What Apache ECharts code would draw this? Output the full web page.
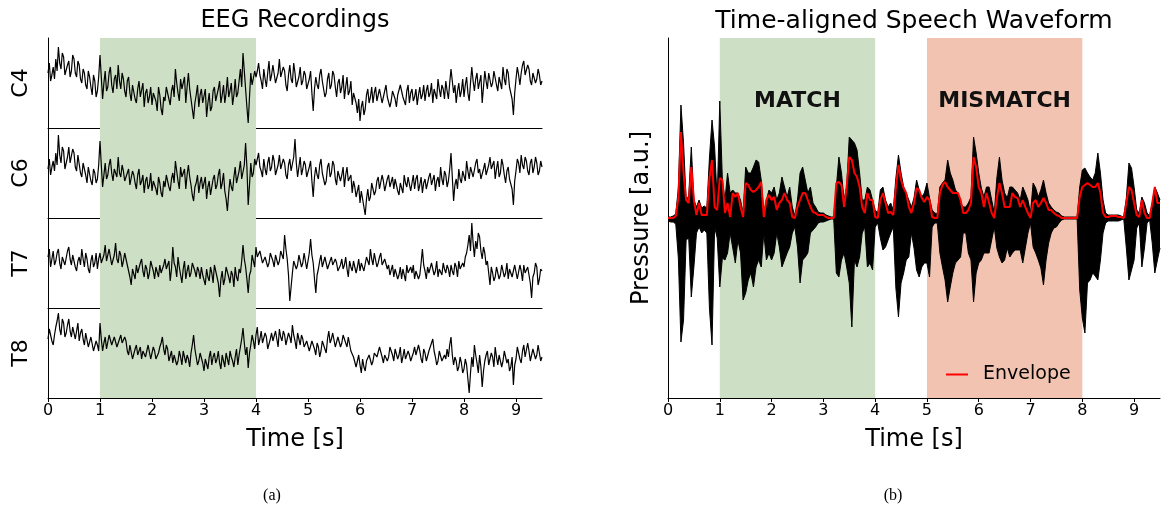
<!DOCTYPE html>
<html>
<head>
<meta charset="utf-8">
<script src="https://cdn.jsdelivr.net/npm/echarts@6/dist/echarts.min.js"></script>
<style>
  html, body { margin: 0; padding: 0; background: #fff; }
  #chart { width: 1164px; height: 510px; }
</style>
</head>
<body>
<div id="chart"></div>
<script>
// Sampling steps, in seconds
const eegStep = 0.025;
const speechStep = 0.05;
const timeTicks = [0, 1, 2, 3, 4, 5, 6, 7, 8, 9];
const channels = ['C4', 'C6', 'T7', 'T8'];

// EEG traces (arbitrary units, one value every 25 ms from 0 to 9.5 s)
const eegC4 = [
  10, 20, 2, 8, 16, 4, 24, 12, 36, 20, 14, 30, 26, 8, 10, 18, 22, 6, 12, 28, 24, 10, 6, 22, 18, 4, 0, 14, 10, -2, -6, 12, 6, -4, -12, 8, 2, -14, -8, 6,
  28, 6, -16, 0, 12, -8, -4, 10, 16, -2, -10, 4, 8, -6, 18, 2, -6, 10, 4, -8, -14, 2, 6, -10, -18, -2, -4, -16, -20, -6, 2, -14, -12, 0, -24, -10, -6, -20, -14, -4,
  -22, -10, -8, -18, -28, -4, -12, -26, -32, -14, -18, -4, -6, -16, -22, -8, -2, -14, 14, 0, -10, -18, 4, -6, -8, 6, -20, -4, 10, -6, -16, -26, -36, -20, -12, -2, -24, -12, -6, -20,
  -18, -6, -34, -20, -10, -28, -24, -8, -4, -18, -16, -6, 2, -20, -12, -2, -20, -10, 6, -14, -8, 0, -22, -12, 4, -14, -10, 2, 14, -4, 30, 12, -6, -24, -40, -14, 10, -2, -4, 12,
  6, 12, 20, 8, 2, -6, 14, 4, -4, 10, 22, 2, 8, 18, 16, 0, -2, 10, 24, 6, 4, 16, 12, -2, -8, 8, 18, 4, 0, 20, 10, -4, -6, 6, 16, -2, 2, 12, 8, -6,
  -4, 4, 12, -10, -28, -6, 6, -2, -6, 8, 14, 2, 0, -14, -10, 4, 10, -6, -2, 12, 8, -4, -14, 0, 4, -10, -4, 8, -16, -4, 6, -12, -8, 2, -22, -10, -12, -20, -30, -16,
  -38, -24, -18, -32, -26, -12, -6, -20, -14, -4, -20, -10, -4, -18, -16, -6, -8, -20, -22, -8, -2, -14, -12, -24, -18, -8, -6, -16, -24, -12, -10, -2, -4, -14, -16, -22, -8, -2, -20, -10,
  -6, -18, -14, -6, -22, -12, -4, -16, -12, -2, -18, -8, -2, -14, -10, 0, -20, -6, -8, -16, 4, -6, -14, -2, -6, -16, 2, -8, -16, 0, 14, 2, -10, -2, -20, -8, 0, -14, -8, 4,
  -14, -2, 6, -10, -18, 0, 16, 2, -8, 4, 10, -6, -4, 8, -20, -4, 12, 2, -6, 10, 8, -4, 0, 12, 14, -2, -8, 6, 6, -6, 16, 4, -2, 14, 10, -4, -6, -16, -32, -10,
  4, 16, 8, -2, 10, 18, 22, 8, 6, 18, 14, 2, -2, 10, 12, 0, 4, 14, 8, -2, 2
];
const eegC6 = [
  4, 14, -2, 6, 12, 2, 20, 8, 38, 18, 10, 26, 22, 4, 6, 16, 26, 10, 12, 24, 20, 6, 2, 18, 16, 0, -4, 10, 8, -2, -10, 6, 4, -8, -12, 4, 0, -10, -6, 8,
  32, 8, -14, -2, 10, -6, -2, 8, 14, 0, -8, 4, 6, -4, 16, 0, -4, 8, 2, -8, -10, 0, 4, -12, -14, 2, -2, -10, -16, -2, 4, -12, -8, -2, -20, -8, -4, -16, -12, 0,
  -18, -8, -6, -16, -22, -4, -10, -20, -24, -8, -14, -2, -4, -14, -18, -6, 0, -10, 12, 2, -8, -16, 6, -4, -6, 4, -16, -2, 8, -4, -12, -22, -28, -14, -10, -2, -20, -10, -4, -16,
  -14, -4, -26, -14, -8, -22, -20, -6, -2, -16, -12, -2, 4, -16, -10, 0, -18, -26, -38, -20, -6, -14, -18, -4, 6, -10, -8, 2, 12, -6, -4, 8, 30, 6, -32, -12, 10, -4, 0, 14,
  8, 14, 20, 6, 2, -4, 14, 4, -2, 10, 16, 2, 6, 18, 12, -2, -4, 8, 18, 4, 4, 14, 10, -2, -6, 8, 14, 2, 2, 16, 34, 10, -4, 6, 16, -2, 4, 12, 8, -4,
  -2, 6, 12, -8, -24, -4, 6, -2, -6, 8, 14, 0, 2, -12, -8, 6, 10, -4, 0, 12, 8, -6, -12, 2, 4, -8, -2, 6, -14, -2, 6, -8, -10, -2, -20, -8, -14, -24, -26, -12,
  -30, -18, -20, -34, -42, -26, -16, -28, -24, -10, -12, -22, -18, -8, -4, -16, -14, -2, -8, -18, -20, -6, -2, -14, -12, -4, -16, -6, -4, -18, -22, -10, -8, -20, -2, -10, -14, -4, -6, -18,
  -10, -2, -16, -6, -2, -18, -12, -4, -20, -10, -6, -16, -14, -4, 0, -12, -10, -2, -18, -8, -4, -14, 6, -6, -12, 2, -2, -14, -8, 4, 20, -4, -28, -12, -6, -16, 4, -6, -10, 2,
  0, -8, 12, 2, -6, 6, 8, -4, -2, 10, 14, 0, 4, -6, -8, 4, 10, -2, -4, 8, 16, 4, 2, 12, -6, 4, 12, -4, 0, 14, 8, -2, -10, 2, 6, -6, -4, -16, -32, -8,
  2, 14, 10, 0, 18, 8, 4, 16, 12, 2, -2, 10, 14, 0, 6, 16, 10, -2, 2, 12, 6
];
const eegT7 = [
  6, 14, -4, 4, 12, -2, 2, 10, 14, 0, -6, 6, 8, -2, 0, 12, 16, 4, -2, 8, 10, -4, -8, 2, 6, -2, 14, 4, -4, 10, 4, -6, -10, 2, 8, -4, 0, 10, -6, 4,
  10, 0, -2, 8, 18, 2, 4, 14, 12, -2, -4, 8, 20, 4, 0, 12, 8, -4, 2, 10, 10, -2, -4, -14, -22, -6, -8, -16, -2, -10, -12, 0, 4, -8, -14, -2, -6, -16, -10, 2,
  0, -8, -16, -4, -6, -14, -2, -10, -12, -2, 4, -6, -8, 2, -18, -6, 16, 0, -4, -14, 6, -4, -12, -20, -6, 2, -16, -8, -2, -14, -10, 0, 2, -8, -14, -4, -8, -16, -4, -12,
  -12, -22, -6, -14, -18, -4, -10, -20, -2, -8, -14, -20, -34, -16, -8, -22, -16, -4, -6, -14, -20, -8, -12, -24, -4, -14, -18, -6, -10, 2, 18, 4, -4, -16, -30, -12, -8, 8, 6, -4,
  16, 6, 4, 12, 10, 0, -2, 6, 8, -4, 0, 10, 12, 2, -4, 8, 6, -2, 2, 12, 10, 4, 28, 14, 4, -12, -38, -24, -10, 2, 4, -6, -2, 8, 6, -4, 0, 10, 2, -6,
  -4, 10, 24, 8, 0, -16, -30, -12, -6, 2, 8, -4, -2, 6, 4, -6, -8, 2, 6, -2, -4, 4, 0, -8, -10, -2, 4, -6, -2, 6, -6, -14, 2, -4, -8, 2, 0, -10, -4, 4,
  -8, 0, 2, -8, -6, 6, 4, -2, 14, 4, -2, 10, 8, -4, 0, 6, 10, -2, -4, 4, 6, -6, -2, -12, -10, -2, -14, -6, -6, -16, -12, -4, -16, -6, -8, -18, -2, -10, -12, -4,
  -10, -2, -16, -8, -6, -16, -12, 0, 14, -2, -8, -16, -4, -10, -12, 0, -2, -12, -8, 2, -14, -6, -4, -12, 0, -6, -10, -2, -6, -14, -2, -8, -12, 0, -4, -14, 2, -6, -8, 0,
  -4, 6, 10, 18, 28, 12, 40, 20, 6, 22, 14, 30, 26, 12, 4, 16, 10, -2, 2, -10, -22, -4, -10, -18, -14, -4, -6, -16, -12, -2, -2, -14, -10, 0, -16, -6, -6, -14, -12, -2,
  -4, -16, -14, -2, -8, -18, -2, -10, -12, -4, -6, -20, -35, -14, -10, 0, -4, -22, -16, -6, -8
];
const eegT8 = [
  14, 24, 22, 12, 8, 18, 26, 32, 40, 24, 18, 34, 30, 16, 20, 28, 34, 22, 16, 26, 28, 14, 22, 30, 12, 20, 24, 14, 8, 20, 18, 6, 4, 16, 14, 2, 0, 12, 8, 2,
  30, 14, 2, 10, 16, 4, 6, 18, 20, 8, 10, 16, 14, 6, 4, 14, 18, 10, 8, 16, 12, 2, -2, 8, 6, -6, -4, 4, 8, -2, 0, 6, -6, 2, 4, -4, -2, 8, 6, -6,
  -4, 6, 2, -6, -8, 0, 6, 10, 16, 4, -2, 8, 4, -8, -6, 2, -10, -2, 0, -12, -8, 2, -4, -12, 2, -4, -10, -2, -6, -14, 0, 8, 18, 4, -4, -12, -8, 0, -2, -10,
  -18, -6, -8, -16, -4, 2, -12, -4, 0, -10, -6, 2, -10, -16, -2, -8, -14, 0, -6, -12, 2, -4, -8, -14, -4, 4, -12, -2, 6, 14, 25, 10, -2, 6, -15, 0, 8, 18, 12, 4,
  18, 26, 8, 14, 22, 10, 12, 20, 16, 4, 6, 14, 20, 12, 10, 22, 14, 6, 24, 16, 12, 22, 18, 8, 8, 20, 16, 10, 28, 18, 12, 4, 20, 14, 8, 18, 14, 6, 4, 12,
  10, 2, 0, 12, 8, 4, -2, 10, 6, -4, 2, 12, 10, 4, 0, 14, 22, 10, 14, 20, 18, 6, 8, 16, 16, 6, 10, 18, 20, 10, 6, 16, 14, 2, 4, -4, -4, -14, -8, -2,
  -12, -20, -6, -14, -18, -8, -10, -2, -4, -12, -8, 0, 2, -4, -6, 6, 4, -4, -10, -2, 0, -8, -4, 6, 8, -2, -8, 4, 2, -6, -2, 6, -10, -4, 4, -6, -6, 2, -2, -8,
  -8, 0, 6, -2, -4, 8, 2, -6, -10, 4, 0, -8, -6, 2, 4, 10, 14, 2, -4, -12, -8, 2, 0, -8, -10, -2, -6, 4, -4, 8, 16, -2, -12, -4, -8, -18, -14, -4, -10, -20,
  -16, -6, -12, -26, -40, -20, -4, -14, 8, -2, -10, -20, -2, -14, -34, -18, -8, -2, 2, -12, -10, 0, -4, -14, 6, -4, -12, -2, -2, -14, -8, 2, 4, -10, -6, -18, -14, -4, -32, -12,
  -6, 6, 4, -6, -10, 2, 8, -4, -4, 10, 2, -8, -8, 4, 6, -6, -2, 8, 0, -8, -4
];

// Speech waveform: upper and lower bounds of the pressure trace, and its envelope (every 50 ms)
const speechUpper = [
  1, 1, 2, 4, 30, 113, 75, 18, 22, 71, 18, 11, 18, 10, 12, 10, 60, 98, 71, 18,
  117, 38, 18, 45, 25, 28, 25, 25, 18, 5, 51, 45, 45, 51, 58, 56, 38, 5, 18, 28,
  25, 31, 18, 25, 41, 31, 21, 31, 11, 2, 18, 45, 51, 38, 25, 31, 15, 11, 6, 5,
  5, 3, 2, 1, 1, 31, 61, 45, 18, 31, 81, 78, 75, 68, 45, 18, 18, 31, 28, 18,
  8, 5, 28, 31, 18, 11, 15, 8, 40, 63, 45, 31, 25, 18, 11, 20, 38, 28, 21, 25,
  35, 20, 8, 5, 4, 31, 35, 38, 58, 45, 38, 28, 25, 15, 11, 11, 15, 21, 81, 65,
  45, 30, 21, 31, 31, 18, 5, 40, 61, 38, 25, 20, 31, 31, 28, 25, 18, 31, 25, 18,
  5, 35, 30, 21, 28, 38, 25, 15, 11, 8, 6, 5, 2, 1, 1, 1, 1, 1, 1, 31,
  48, 50, 45, 41, 38, 45, 65, 45, 18, 5, 3, 3, 3, 3, 3, 2, 1, 20, 55, 50,
  31, 8, 5, 21, 15, 5, 2, 15, 31, 25, 18
];
const speechLower = [
  -3, -4, -4, -6, -40, -124, -102, -22, -20, -79, -49, -15, -9, -15, -12, -15, -90, -127, -9, -20,
  -69, -40, -42, -35, -15, -30, -45, -22, -35, -82, -75, -62, -55, -69, -49, -42, -49, -15, -42, -35,
  -42, -35, -15, -29, -49, -42, -35, -29, -15, -9, -29, -65, -42, -39, -35, -15, -12, -9, -5, -4,
  -4, -3, -2, -1, -1, -55, -59, -42, -35, -49, -65, -109, -42, -49, -39, -15, -9, -49, -45, -52,
  -9, -5, -20, -32, -29, -22, -15, -9, -70, -99, -65, -55, -42, -39, -15, -30, -52, -59, -49, -45,
  -45, -59, -9, -5, -5, -35, -49, -62, -84, -69, -55, -45, -42, -39, -15, -15, -35, -42, -84, -55,
  -45, -42, -35, -35, -35, -22, -9, -30, -39, -45, -42, -30, -39, -35, -32, -32, -32, -45, -30, -15,
  -5, -29, -35, -42, -50, -67, -42, -25, -15, -10, -9, -5, -2, -1, -1, -1, -1, -1, -1, -72,
  -100, -115, -65, -62, -55, -58, -62, -42, -15, -5, -3, -3, -3, -3, -3, -2, -1, -30, -62, -52,
  -42, -10, -5, -49, -30, -5, -2, -25, -55, -42, -30
];
const envelope = [
  0, 0, 0, 2, 20, 86, 45, 18, 15, 51, 18, 3, 15, 3, 3, 3, 40, 58, 11, 8,
  40, 38, 5, 15, 1, 25, 21, 25, 11, 1, 35, 33, 28, 26, 28, 31, 36, 1, 18, 23,
  18, 21, 8, 15, 18, 25, 18, 15, 1, 0, 11, 18, 25, 25, 18, 11, 6, 5, 3, 3,
  3, 1, 0, 0, 0, 35, 36, 33, 11, 31, 61, 58, 45, 41, 31, 11, 5, 25, 18, 18,
  1, 0, 18, 25, 15, 5, 6, 3, 30, 53, 38, 30, 25, 11, 5, 15, 30, 28, 20, 16,
  21, 18, 1, 0, 0, 25, 33, 36, 31, 28, 25, 25, 25, 18, 5, 5, 8, 15, 61, 51,
  31, 25, 11, 25, 15, 5, 0, 20, 35, 25, 11, 11, 11, 25, 21, 20, 11, 18, 11, 5,
  0, 15, 18, 11, 15, 20, 15, 8, 8, 5, 3, 2, 0, 0, 0, 0, 0, 0, 0, 21,
  31, 33, 35, 33, 31, 31, 35, 25, 5, 1, 1, 2, 2, 2, 1, 1, 0, 15, 31, 28,
  15, 3, 1, 18, 5, 0, 0, 15, 31, 15, 15
];

// Condition windows, in seconds
const matchSpan = [1, 4];
const mismatchSpan = [5, 8];

const FONT = '"DejaVu Sans", sans-serif';
const GREEN = '#cddfc4';
const SALMON = '#f2c3b1';
const EEG_RANGE = 45;
const SPEECH_RANGE = 180;

const toPairs = (arr, step) => arr.map((v, i) => [+(i * step).toFixed(3), v]);
const eegData = [eegC4, eegC6, eegT7, eegT8];

const chart = echarts.init(document.getElementById('chart'), null, { renderer: 'canvas' });

const grids = [];
const xAxes = [];
const yAxes = [];
const series = [];

const spine = { show: true, onZero: false, lineStyle: { color: '#000', width: 1 } };

// Four stacked EEG panels sharing the time axis
const eegTop = 38, eegH = 90;
channels.forEach((name, i) => {
  const last = i === channels.length - 1;
  grids.push({ left: 48, width: 494, top: eegTop + i * eegH, height: eegH });
  xAxes.push({
    type: 'value', gridIndex: i, min: 0, max: 9.5,
    axisLine: spine,
    axisTick: last ? { show: true, length: 4, lineStyle: { color: '#000' }, customValues: timeTicks } : { show: false },
    axisLabel: last ? { show: true, fontFamily: FONT, fontSize: 16, color: '#000', margin: 5, customValues: timeTicks } : { show: false },
    splitLine: { show: false },
    name: last ? 'Time [s]' : '',
    nameLocation: 'middle', nameGap: 30,
    nameTextStyle: { fontFamily: FONT, fontSize: 24, color: '#000' }
  });
  yAxes.push({
    type: 'value', gridIndex: i, min: -EEG_RANGE, max: EEG_RANGE,
    axisLine: spine,
    axisTick: { show: false }, axisLabel: { show: false }, splitLine: { show: false },
    name: name, nameLocation: 'middle', nameRotate: 90, nameGap: 16,
    nameTextStyle: { fontFamily: FONT, fontSize: 22, color: '#000' }
  });
  series.push({
    type: 'line', xAxisIndex: i, yAxisIndex: i,
    data: toPairs(eegData[i], eegStep),
    showSymbol: false, symbol: 'none',
    lineStyle: { color: '#000', width: 1.2 },
    silent: true,
    markArea: {
      silent: true,
      itemStyle: { color: GREEN },
      data: [[{ xAxis: matchSpan[0] }, { xAxis: matchSpan[1] }]]
    }
  });
});

// Speech panel
const sp = channels.length;
grids.push({ left: 668, width: 492, top: 38, height: 360 });
xAxes.push({
  type: 'value', gridIndex: sp, min: 0, max: 9.5,
  axisLine: spine,
  axisTick: { show: true, length: 4, lineStyle: { color: '#000' }, customValues: timeTicks },
  axisLabel: { show: true, fontFamily: FONT, fontSize: 16, color: '#000', margin: 5, customValues: timeTicks },
  splitLine: { show: false },
  name: 'Time [s]', nameLocation: 'middle', nameGap: 30,
  nameTextStyle: { fontFamily: FONT, fontSize: 24, color: '#000' }
});
yAxes.push({
  type: 'value', gridIndex: sp, min: -SPEECH_RANGE, max: SPEECH_RANGE,
  axisLine: spine,
  axisTick: { show: false }, axisLabel: { show: false }, splitLine: { show: false },
  name: 'Pressure [a.u.]', nameLocation: 'middle', nameRotate: 90, nameGap: 14,
  nameTextStyle: { fontFamily: FONT, fontSize: 24, color: '#000' }
});

const condLabel = {
  show: true, position: 'insideTop', distance: 52,
  fontFamily: FONT, fontSize: 22, fontWeight: 'bold', color: '#111'
};
series.push({
  name: 'waveform', type: 'line', xAxisIndex: sp, yAxisIndex: sp,
  data: toPairs(speechUpper, speechStep), showSymbol: false, symbol: 'none',
  lineStyle: { color: '#000', width: 1 },
  areaStyle: { color: '#000', opacity: 1, origin: 0 },
  silent: true, z: 2,
  markArea: {
    silent: true,
    label: condLabel,
    data: [
      [{ name: 'MATCH', xAxis: matchSpan[0], itemStyle: { color: GREEN } }, { xAxis: matchSpan[1] }],
      [{ name: 'MISMATCH', xAxis: mismatchSpan[0], itemStyle: { color: SALMON } }, { xAxis: mismatchSpan[1] }]
    ]
  }
});
series.push({
  name: 'waveformLow', type: 'line', xAxisIndex: sp, yAxisIndex: sp,
  data: toPairs(speechLower, speechStep), showSymbol: false, symbol: 'none',
  lineStyle: { color: '#000', width: 1 },
  areaStyle: { color: '#000', opacity: 1, origin: 0 },
  silent: true, z: 2
});
series.push({
  name: 'Envelope', type: 'line', xAxisIndex: sp, yAxisIndex: sp,
  data: toPairs(envelope, speechStep), showSymbol: false, symbol: 'none',
  lineStyle: { color: '#ff0000', width: 2 },
  itemStyle: { color: '#ff0000' },
  silent: true, z: 3
});

const text = (t, x, y, font) => ({
  type: 'text', x: x, y: y,
  style: { text: t, font: font, fill: '#000', align: 'center', verticalAlign: 'middle', textAlign: 'center', textVerticalAlign: 'middle' }
});

chart.setOption({
  animation: false,
  backgroundColor: '#fff',
  grid: grids,
  xAxis: xAxes,
  yAxis: yAxes,
  series: series,
  legend: {
    data: [{ name: 'Envelope', icon: 'rect' }],
    left: 941, top: 360,
    itemWidth: 22, itemHeight: 2,
    textStyle: { fontFamily: FONT, fontSize: 19, color: '#000', padding: [0, 0, 0, 10] },
    selectedMode: false
  },
  graphic: [
    text('EEG Recordings', 295, 21, '24px ' + FONT),
    text('Time-aligned Speech Waveform', 914, 21, '25px ' + FONT),
    text('(a)', 272, 496, '16px "Liberation Serif", serif'),
    text('(b)', 893, 496, '16px "Liberation Serif", serif')
  ]
});
</script>
</body>
</html>
